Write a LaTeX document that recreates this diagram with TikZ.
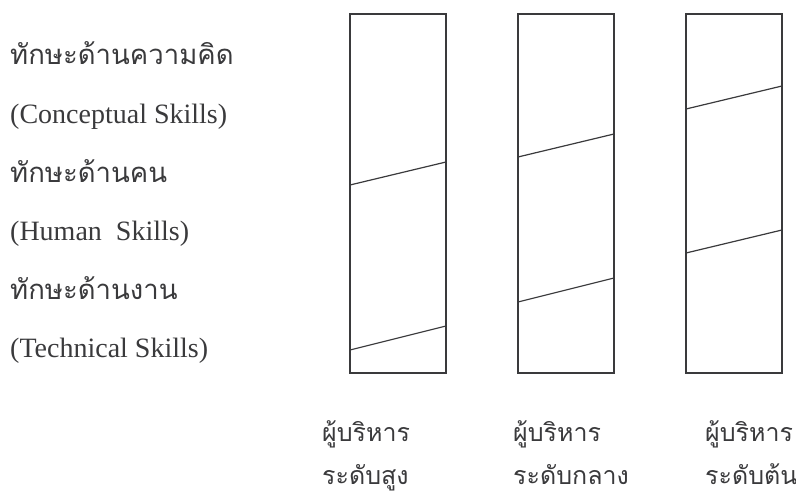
\documentclass[tikz,border=0pt]{standalone}
\usepackage{fontspec}
\setmainfont{Liberation Serif}
\newfontfamily\thaifont[Script=Thai]{Loma}
\definecolor{ink}{HTML}{3A3A3C}
\tikzset{
  lbl/.style={anchor=base west, inner sep=0pt, text=ink, font=\fontsize{28}{34}\selectfont},
  thlbl/.style={anchor=base west, inner sep=0pt, text=ink, font=\thaifont\fontsize{27.5}{32}\selectfont},
  thbot/.style={anchor=base west, inner sep=0pt, text=ink, font=\thaifont\fontsize{25}{30}\selectfont},
  bar/.style={draw=ink, line width=1.4pt, minimum width=96pt, minimum height=359pt, inner sep=0pt},
  split/.style={draw=ink, line width=1.2pt}
}
\begin{document}
\begin{tikzpicture}[x=1pt,y=-1pt]
\useasboundingbox (0,0) rectangle (796,497);
% left labels
\node[thlbl] (t1) at (10,65) {ทักษะด้านความคิด};
\node[lbl]   (e1) at (10,124) {(Conceptual Skills)};
\node[thlbl] (t2) at (10,183) {ทักษะด้านคน};
\node[lbl]   (e2) at (10,241) {(Human\ \ Skills)};
\node[thlbl] (t3) at (10,300) {ทักษะด้านงาน};
\node[lbl]   (e3) at (10,358) {(Technical Skills)};
% bars
\node[bar] (b1) at (398,193.5) {};
\node[bar] (b2) at (566,193.5) {};
\node[bar] (b3) at (734,193.5) {};
% split lines
\coordinate (a1l) at (350,185); \coordinate (a1r) at (446,162);
\coordinate (c1l) at (350,350); \coordinate (c1r) at (446,326);
\coordinate (a2l) at (518,157); \coordinate (a2r) at (614,134);
\coordinate (c2l) at (518,302); \coordinate (c2r) at (614,278);
\coordinate (a3l) at (686,109); \coordinate (a3r) at (782,86);
\coordinate (c3l) at (686,253); \coordinate (c3r) at (782,230);
\draw[split] (a1l) -- (a1r);
\draw[split] (c1l) -- (c1r);
\draw[split] (a2l) -- (a2r);
\draw[split] (c2l) -- (c2r);
\draw[split] (a3l) -- (a3r);
\draw[split] (c3l) -- (c3r);
% bottom labels
\node[thbot] (m1) at (322,441) {ผู้บริหาร};
\node[thbot] (l1) at (322,484) {ระดับสูง};
\node[thbot] (m2) at (513,441) {ผู้บริหาร};
\node[thbot] (l2) at (513,484) {ระดับกลาง};
\node[thbot] (m3) at (705,441) {ผู้บริหาร};
\node[thbot] (l3) at (705,484) {ระดับต้น};
\end{tikzpicture}
\end{document}
